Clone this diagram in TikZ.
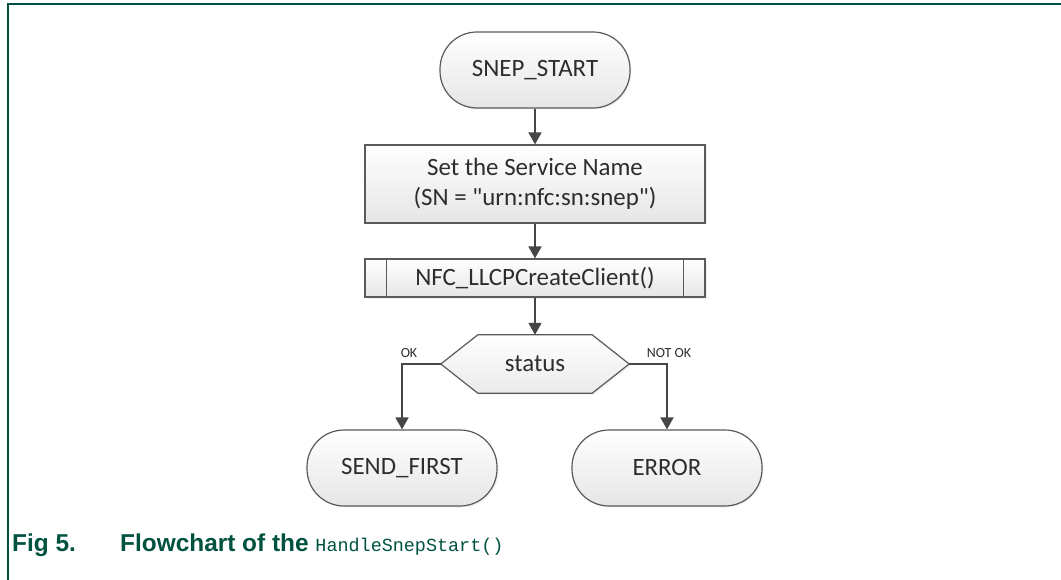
\documentclass[tikz,border=0pt]{standalone}
\usepackage{fontspec}
\setmainfont{Carlito}[Ligatures=TeXOff]
\newfontfamily\capfont{Liberation Sans}
\newfontfamily\codefont{Liberation Mono}
\usetikzlibrary{arrows.meta,shadows}
\definecolor{nxpgreen}{RGB}{0,82,64}
\definecolor{edgegray}{RGB}{90,90,90}
\definecolor{linegray}{RGB}{70,70,70}
\definecolor{txtgray}{RGB}{45,45,45}
\tikzset{
  shapebase/.style={draw=edgegray, line width=1.2bp, top color=white, bottom color=black!10,
    text=txtgray, font=\fontsize{25}{30}\selectfont, align=center, inner sep=0pt,
    drop shadow={opacity=0.12, shadow xshift=1.5bp, shadow yshift=-1.5bp}},
  terminal/.style={shapebase, rectangle, rounded corners=37bp, minimum width=190bp, minimum height=76bp},
  process/.style={shapebase, rectangle, minimum width=340bp},
  decisionbox/.style={rectangle, inner sep=0pt, minimum width=188bp, minimum height=58bp,
    text=txtgray, font=\fontsize{25}{30}\selectfont},
  flow/.style={draw=linegray, line width=1.8bp, -{Triangle[width=13bp,length=12bp]}},
  branchlabel/.style={text=txtgray, font=\fontsize{14}{16}\selectfont, inner sep=0pt},
  captext/.style={anchor=base west, inner sep=0pt, text=nxpgreen,
    font=\capfont\bfseries\fontsize{24.5}{28}\selectfont},
}
\begin{document}
\begin{tikzpicture}[x=1bp,y=-1bp]
  \useasboundingbox (0,0) rectangle (1061,580);
  % page frame
  \draw[nxpgreen, line width=2bp] (8,580) -- (8,4) -- (1061,4);

  % nodes
  \node[terminal] (start) at (535,70) {SNEP\_START};
  \node[process, minimum height=78bp] (setsn) at (535,184)
    {Set the Service Name\\(SN = "urn:nfc:sn:snep")};
  \node[process, minimum height=38bp] (create) at (535,278) {NFC\_LLCPCreateClient()};
  \draw[edgegray, line width=1.2bp] ([xshift=22bp]create.north west) -- ([xshift=22bp]create.south west)
    ([xshift=-22bp]create.north east) -- ([xshift=-22bp]create.south east);

  \node[decisionbox] (status) at (535,364) {};
  \path[draw=edgegray, line width=1.2bp, top color=white, bottom color=black!8,
        drop shadow={opacity=0.12, shadow xshift=1.5bp, shadow yshift=-1.5bp}]
    (status.west) -- ([xshift=37bp]status.north west) -- ([xshift=-37bp]status.north east)
    -- (status.east) -- ([xshift=-37bp]status.south east) -- ([xshift=37bp]status.south west) -- cycle;
  \node[text=txtgray, font=\fontsize{25}{30}\selectfont] at (status.center) {status};

  \node[terminal] (sendfirst) at (402,468) {SEND\_FIRST};
  \node[terminal] (error) at (667,468) {ERROR};

  % connectors
  \draw[flow] (start.south) -- (setsn.north);
  \draw[flow] (setsn.south) -- (create.north);
  \draw[flow] (create.south) -- (status.north);
  \draw[flow] (status.west) -| (sendfirst.north);
  \draw[flow] (status.east) -| (error.north);

  \node[branchlabel] (oklbl) at (409,353) {OK};
  \node[branchlabel] (notoklbl) at (669,353) {NOT OK};

  % caption
  \node[captext] (fignum) at (12,551) {Fig 5.};
  \node[captext] (figtitle) at (120,551)
    {Flowchart of the {\codefont\mdseries\fontsize{18.5}{22}\selectfont HandleSnepStart()}};
\end{tikzpicture}
\end{document}
